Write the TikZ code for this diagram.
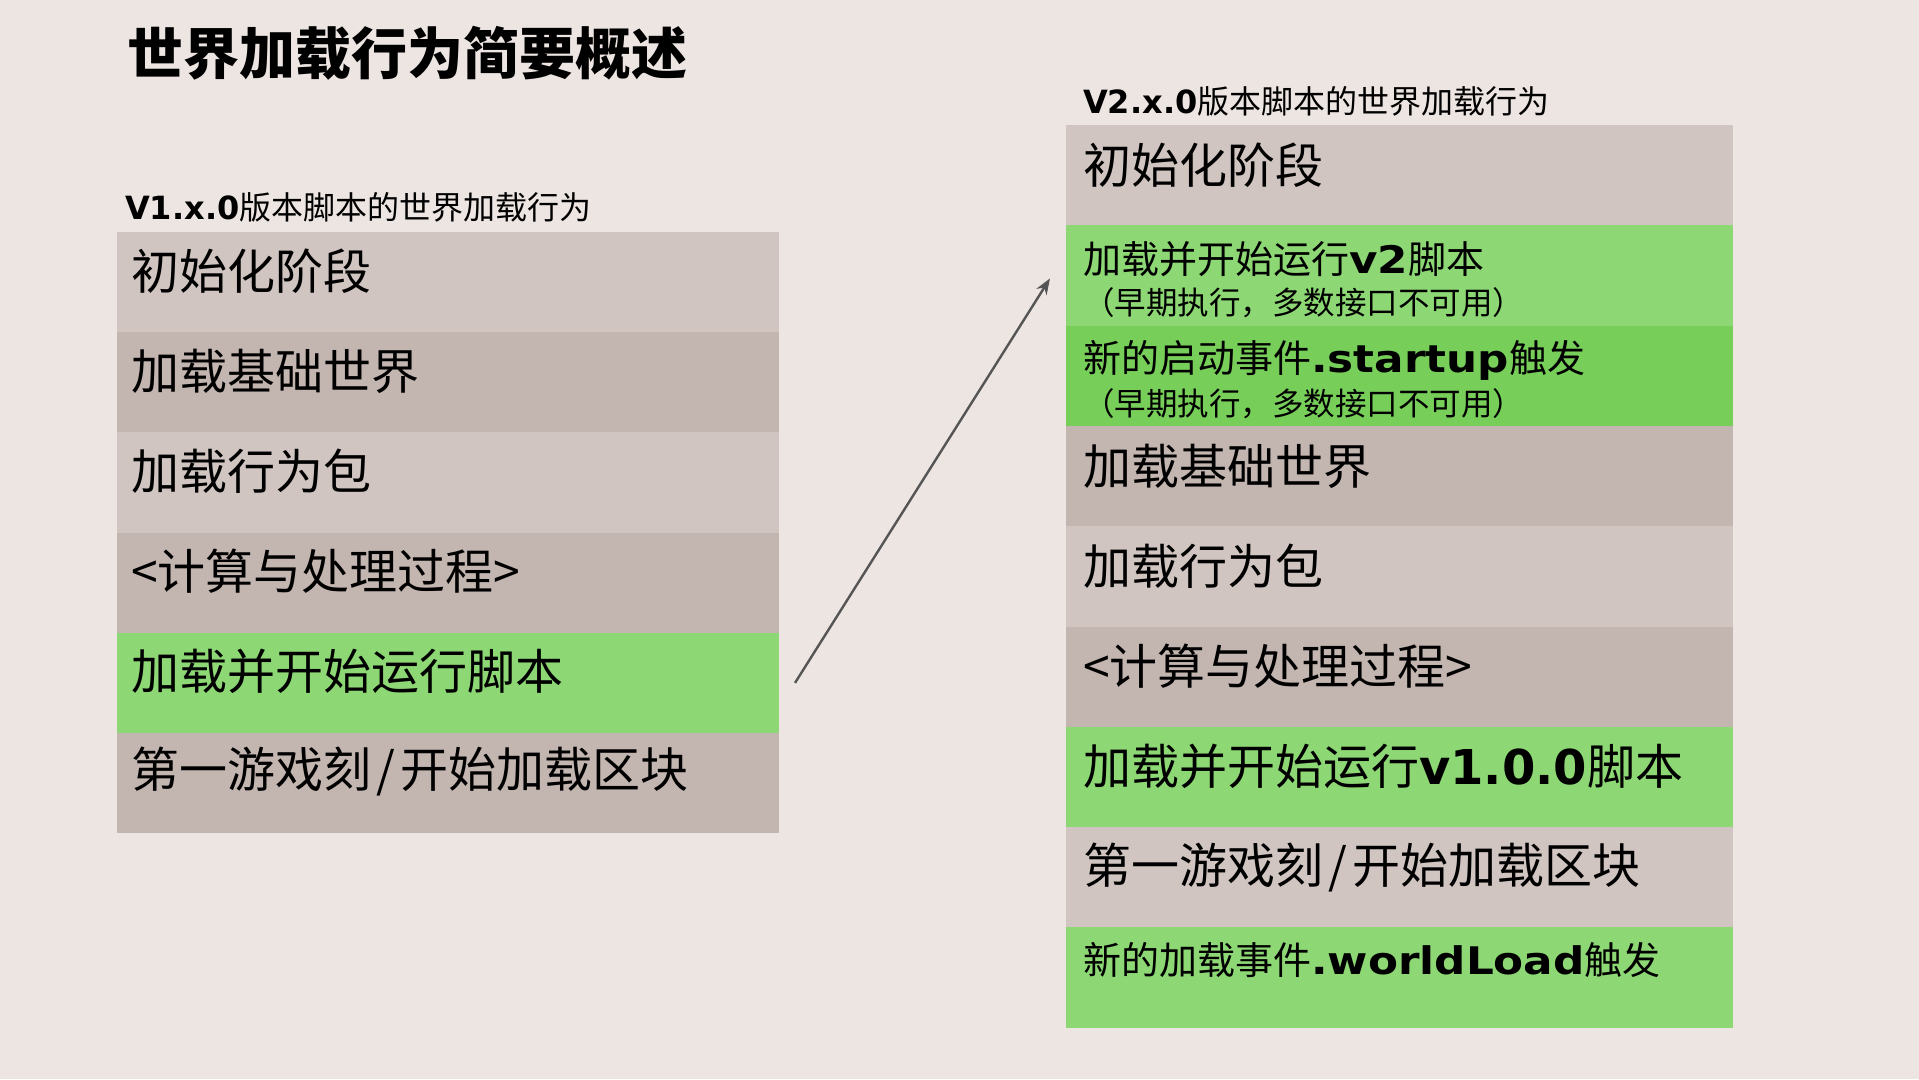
\documentclass[tikz,border=0pt]{standalone}
\usepackage{fontspec}
\setmainfont{Noto Sans CJK SC}
\newfontfamily\latb{DejaVu Sans}[BoldFont=* Bold]
\newfontfamily\latw{DejaVu Sans}[BoldFont=* Bold, FakeStretch=1.15]
\newcommand{\lb}[1]{{\latb\bfseries #1}}
\newcommand{\lw}[1]{{\latw\bfseries #1}}
\usetikzlibrary{arrows.meta,calc}
\definecolor{bg}{HTML}{EDE5E2}
\definecolor{rowA}{HTML}{D0C5C1}
\definecolor{rowB}{HTML}{C3B5B0}
\definecolor{grn}{HTML}{8DD874}
\definecolor{grnD}{HTML}{77CF5A}
\definecolor{arr}{HTML}{555555}
\tikzset{
  lrow/.style={anchor=north west, inner sep=0pt, outer sep=0pt, minimum width=662pt, minimum height=100.2pt},
  rrow/.style={anchor=north west, inner sep=0pt, outer sep=0pt, minimum width=667pt, minimum height=100.3pt},
  big/.style={anchor=west, inner sep=0pt, font=\fontsize{48}{52}\selectfont},
  mid/.style={anchor=west, inner sep=0pt, font=\fontsize{38}{42}\selectfont},
  small/.style={anchor=west, inner sep=0pt, font=\fontsize{31.5}{34}\selectfont},
  sub/.style={anchor=west, inner sep=0pt, font=\fontsize{32}{36}\selectfont},
  ttl/.style={anchor=west, inner sep=0pt, font=\fontsize{56}{60}\selectfont\bfseries},
  conn/.style={draw=arr, line width=2.4pt, -{Stealth[length=16pt,width=12pt]}}
}
\begin{document}
\begin{tikzpicture}[x=1pt,y=-1pt]
\useasboundingbox (0,0) rectangle (1919,1079);
\fill[bg] (0,0) rectangle (1919,1079);

\node[ttl] (title) at (127,53) {世界加载行为简要概述};

% left column
\node[sub] (lsub) at (125,207) {\lb{V1.x.0}版本脚本的世界加载行为};
\node[lrow, fill=rowA] (l1) at (117,232) {};
\node[lrow, fill=rowB] (l2) at (l1.south west) {};
\node[lrow, fill=rowA] (l3) at (l2.south west) {};
\node[lrow, fill=rowB] (l4) at (l3.south west) {};
\node[lrow, fill=grn]  (l5) at (l4.south west) {};
\node[lrow, fill=rowB] (l6) at (l5.south west) {};
\node[big] (t1) at ($(l1.north west)+(14,39)$) {初始化阶段};
\node[big] (t2) at ($(l2.north west)+(14,39)$) {加载基础世界};
\node[big] (t3) at ($(l3.north west)+(14,39)$) {加载行为包};
\node[big] (t4) at ($(l4.north west)+(14,39)$) {<计算与处理过程>};
\node[big] (t5) at ($(l5.north west)+(14,39)$) {加载并开始运行脚本};
\node[big] (t6) at ($(l6.north west)+(14,39)$) {第一游戏刻\kern5pt/\kern5pt开始加载区块};

% right column
\node[sub] (rsub) at (1083,101) {\lb{V2.x.0}版本脚本的世界加载行为};
\node[rrow, fill=rowA] (r1) at (1066,125) {};
\node[rrow, fill=grn]  (r2) at (r1.south west) {};
\node[rrow, fill=grnD] (r3) at (r2.south west) {};
\node[rrow, fill=rowB] (r4) at (r3.south west) {};
\node[rrow, fill=rowA] (r5) at (r4.south west) {};
\node[rrow, fill=rowB] (r6) at (r5.south west) {};
\node[rrow, fill=grn]  (r7) at (r6.south west) {};
\node[rrow, fill=rowA] (r8) at (r7.south west) {};
\node[rrow, fill=grn]  (r9) at (r8.south west) {};
\node[big] (u1) at ($(r1.north west)+(17,40)$) {初始化阶段};
\node[mid] (u2) at ($(r2.north west)+(17,34)$) {加载并开始运行\lw{v2}脚本};
\node[small] (u2b) at ($(r2.north west)+(17,77)$) {（早期执行，多数接口不可用）};
\node[mid] (u3) at ($(r3.north west)+(17,35)$) {新的启动事件\lw{.startup}触发};
\node[small] (u3b) at ($(r3.north west)+(17,78)$) {（早期执行，多数接口不可用）};
\node[big] (u4) at ($(r4.north west)+(17,40)$) {加载基础世界};
\node[big] (u5) at ($(r5.north west)+(17,40)$) {加载行为包};
\node[big] (u6) at ($(r6.north west)+(17,40)$) {<计算与处理过程>};
\node[big] (u7) at ($(r7.north west)+(17,40)$) {加载并开始运行\lb{v1.0.0}脚本};
\node[big] (u8) at ($(r8.north west)+(17,40)$) {第一游戏刻\kern5pt/\kern5pt开始加载区块};
\node[mid] (u9) at ($(r9.north west)+(17,33)$) {新的加载事件\lw{.worldLoad}触发};

% connector
\coordinate (as) at ($(l5.east)+(16,0)$);
\coordinate (ae) at ($(r2.west)+(-16,3)$);
\draw[conn] (as) -- (ae);
\end{tikzpicture}
\end{document}
